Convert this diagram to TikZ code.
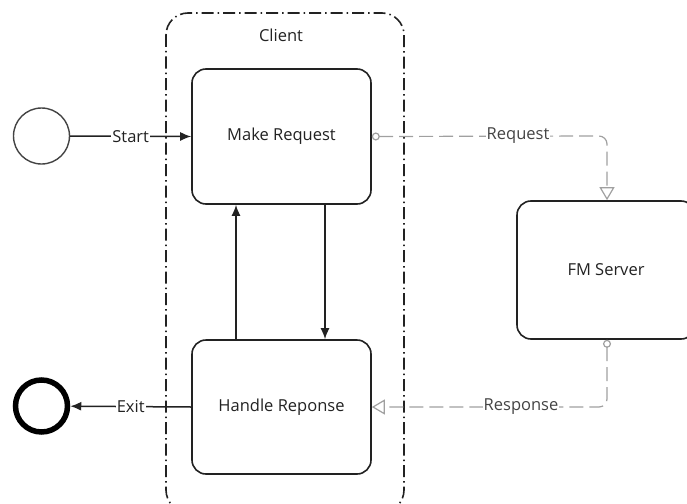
\documentclass[tikz,border=0pt]{standalone}
\usepackage{fontspec}
\setmainfont{Open Sans}
\usetikzlibrary{arrows.meta}
\definecolor{boxline}{HTML}{222222}
\definecolor{msgline}{HTML}{A0A0A0}
\definecolor{msgtext}{HTML}{444444}
\begin{document}
\begin{tikzpicture}[x=1pt,y=-1pt,
  every node/.style={font=\fontsize{16.5}{19}\selectfont},
  task/.style={draw=boxline,line width=1.6pt,rounded corners=14pt,fill=white,inner sep=0pt},
  flow/.style={draw=boxline,line width=1.5pt,-{Latex[length=11pt,width=9pt]}},
  msg/.style={draw=msgline,line width=1.2pt,dash pattern=on 14pt off 6pt,rounded corners=8pt,
    {Circle[open,length=8pt,width=8pt,fill=white]}-{Triangle[open,length=13pt,width=15pt,fill=white]}},
  lbl/.style={fill=white,inner sep=1pt,text=boxline},
  mlbl/.style={fill=white,inner sep=1pt,text=msgtext}]
\useasboundingbox (0,0) rectangle (687,503);
% pool
\draw[boxline,line width=1.6pt,rounded corners=22pt,dash pattern=on 12pt off 4pt on 1.5pt off 4pt]
  (166,13) rectangle (404,512);
\node[text=boxline] (client) at (281,35) {Client};
% events
\node[draw=boxline!85,line width=1.4pt,circle,minimum size=56pt,inner sep=0pt] (start) at (41.5,136) {};
\node[draw=black,line width=5.5pt,circle,minimum size=52pt,inner sep=0pt] (end) at (41.5,406) {};
% tasks
\node[task,minimum width=179pt,minimum height=135pt,text=boxline] (mr) at (281.5,136.5) {Make Request};
\node[task,minimum width=179pt,minimum height=134pt,text=boxline] (hr) at (281.5,407) {Handle Reponse};
\node[task,minimum width=178pt,minimum height=138pt,text=boxline] (fm) at (606,270) {FM Server};
% flows
\draw[flow] (start) -- node[lbl]{Start} (mr.west);
\draw[flow] (hr.west) -- node[lbl]{Exit} (end);
\draw[flow] (hr.north -| 236,0) -- (mr.south -| 236,0);
\draw[flow] (mr.south -| 325,0) -- (hr.north -| 325,0);
% messages
\coordinate (c1) at (607,136);
\coordinate (c2) at (607,407);
\draw[msg] (mr.east) -- (c1) -- (fm.north -| c1);
\node[mlbl] (reql) at (518,136) {Request};
\draw[msg] (fm.south -| c2) -- (c2) -- (hr.east);
\node[mlbl] (resl) at (521,407) {Response};
\end{tikzpicture}
\end{document}
